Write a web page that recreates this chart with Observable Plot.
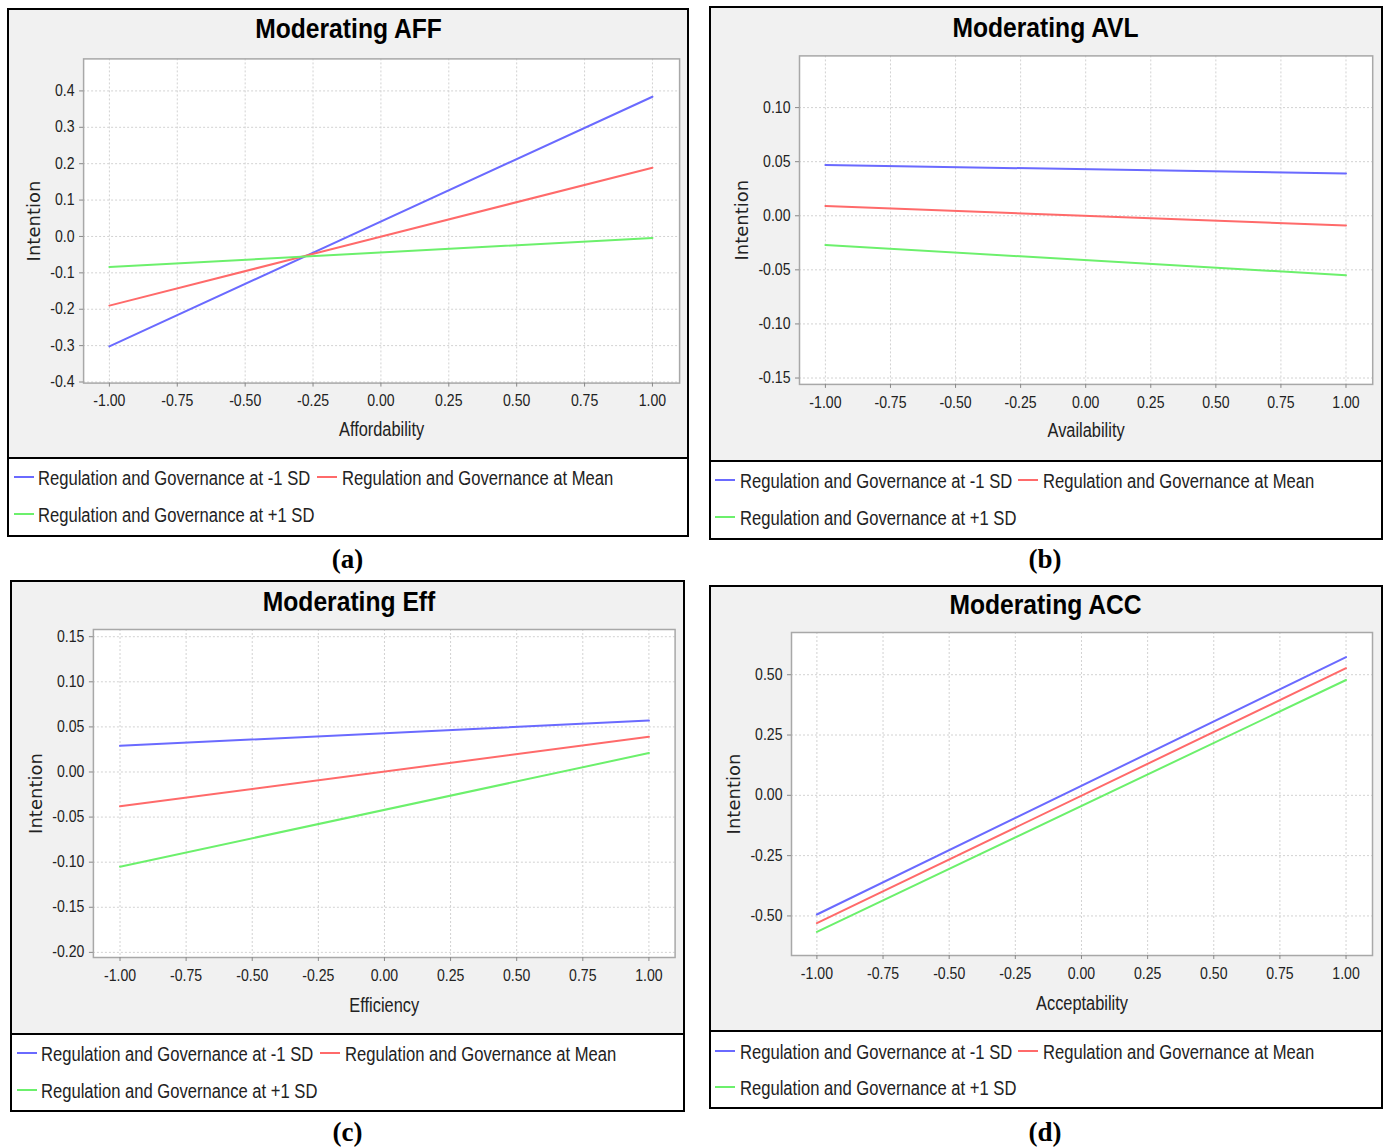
<!DOCTYPE html>
<html>
<head>
<meta charset="utf-8">
<script src="https://cdn.jsdelivr.net/npm/d3@7"></script>
<script src="https://cdn.jsdelivr.net/npm/@observablehq/plot@0.6"></script>
<style>
html, body { margin: 0; padding: 0; background: #fff; }
#page { position: relative; width: 1389px; height: 1148px; overflow: hidden; background: #fff; }
.panel { position: absolute; box-sizing: border-box; border: 2.5px solid #000; background: #f1f1f1; }
.legend { position: absolute; box-sizing: border-box; border: 2.5px solid #000; background: #fff; }
.swatch { position: absolute; width: 20px; height: 2px; }
.ltext { position: absolute; white-space: nowrap; font-family: "Liberation Sans", Arial, sans-serif; font-size: 20px;
  line-height: 24px; color: #222; transform-origin: 0 50%; transform: translateY(-50%) scaleX(0.83); }
.caption { position: absolute; transform: translate(-50%, -50%); font-family: "Liberation Serif", "Times New Roman", serif;
  font-weight: bold; font-size: 27px; color: #000; white-space: nowrap; }
</style>
</head>
<body>
<div id="page"></div>
<script>
// ---- data ----
const xValues = [-1, 1];
const seriesNames = [
  "Regulation and Governance at -1 SD",
  "Regulation and Governance at Mean",
  "Regulation and Governance at +1 SD"
];
const seriesColors = ["#6a6aff", "#ff6a6a", "#6cf06c"];

const panelTitles = ["Moderating AFF", "Moderating AVL", "Moderating Eff", "Moderating ACC"];
const xAxisLabels = ["Affordability", "Availability", "Efficiency", "Acceptability"];
const yAxisLabel = "Intention";
const captions = ["(a)", "(b)", "(c)", "(d)"];

// Intention at x = -1 and x = +1 for each moderator level
const affLow = [-0.302, 0.384];
const affMean = [-0.190, 0.189];
const affHigh = [-0.084, -0.004];

const avlLow = [0.047, 0.039];
const avlMean = [0.009, -0.009];
const avlHigh = [-0.027, -0.055];

const effLow = [0.029, 0.057];
const effMean = [-0.038, 0.039];
const effHigh = [-0.105, 0.021];

const accLow = [-0.494, 0.573];
const accMean = [-0.530, 0.527];
const accHigh = [-0.566, 0.478];

// tick values
const xTicks = [-1, -0.75, -0.5, -0.25, 0, 0.25, 0.5, 0.75, 1];
const affYTicks = [-0.4, -0.3, -0.2, -0.1, 0, 0.1, 0.2, 0.3, 0.4];
const avlYTicks = [-0.15, -0.10, -0.05, 0, 0.05, 0.10];
const effYTicks = [-0.20, -0.15, -0.10, -0.05, 0, 0.05, 0.10, 0.15];
const accYTicks = [-0.50, -0.25, 0, 0.25, 0.50];

// ---- layout (page pixel geometry) ----
const layouts = [
  {box: [7, 8, 688.5, 537], legendTop: 457, plot: [82.6, 57.9, 678.6, 382.1],
   xDomain: [-1.095, 1.1], yDomain: [-0.403, 0.488], titleXY: [347.5, 28.5], xLabelY: 429, yLabelX: 33,
   captionXY: [347.5, 559], rows: [20.5, 57.5]},
  {box: [708.5, 5.5, 1382.5, 540], legendTop: 460, plot: [799, 55.4, 1372.2, 383.9],
   xDomain: [-1.0995, 1.1026], yDomain: [-0.1559, 0.1478], titleXY: [1045, 27.8], xLabelY: 430.5, yLabelX: 741.5,
   captionXY: [1045, 559], rows: [20.4, 57.9]},
  {box: [10, 579.5, 685, 1112], legendTop: 1032.5, plot: [92.4, 629, 674.1, 957],
   xDomain: [-1.1006, 1.099], yDomain: [-0.2057, 0.158], titleXY: [348, 601.8], xLabelY: 1005, yLabelX: 35,
   captionXY: [347.5, 1132], rows: [21.1, 58]},
  {box: [708.5, 584.5, 1383, 1109], legendTop: 1029.5, plot: [791, 632, 1372, 955],
   xDomain: [-1.096, 1.1], yDomain: [-0.664, 0.675], titleXY: [1045, 604.5], xLabelY: 1003, yLabelX: 733.6,
   captionXY: [1045, 1132], rows: [21.5, 58.4]}
];
// legend item slots: [swatch left, text left, row index]
const legendSlots = [[7, 31.5, 0], [310, 335, 0], [7, 31.5, 1]];

const panelSeries = [
  [affLow, affMean, affHigh],
  [avlLow, avlMean, avlHigh],
  [effLow, effMean, effHigh],
  [accLow, accMean, accHigh]
];
const panelYTicks = [affYTicks, avlYTicks, effYTicks, accYTicks];
const panelYDigits = [1, 2, 2, 2];

const sans = '"Liberation Sans", Arial, sans-serif';
const page = document.getElementById("page");
const B = 2.5;

layouts.forEach((lay, i) => {
  const [L, T, R, Bt] = lay.box;
  const [pL, pT, pR, pB] = lay.plot;

  const panel = document.createElement("div");
  panel.className = "panel";
  Object.assign(panel.style, {left: L + "px", top: T + "px", width: (R - L) + "px", height: (Bt - T) + "px"});
  page.appendChild(panel);

  const rows = [];
  panelSeries[i].forEach((vals, s) => {
    vals.forEach((v, k) => rows.push({x: xValues[k], y: v, s: seriesNames[s]}));
  });

  const svgX = L + B, svgY = T + B;
  const svgW = Math.round(R - L - 2 * B), svgH = Math.round(lay.legendTop - T - B);
  const mL = pL - svgX, mT = pT - svgY, mR = svgX + svgW - pR, mB = svgY + svgH - pB;
  const frameCx = (pL + pR) / 2;
  const yt = panelYTicks[i];
  const digits = panelYDigits[i];

  const chart = Plot.plot({
    width: svgW, height: svgH,
    marginLeft: mL, marginRight: mR, marginTop: mT, marginBottom: mB,
    style: {background: "transparent", fontFamily: sans, fontSize: "16px", color: "#222", overflow: "visible"},
    x: {domain: lay.xDomain, label: null},
    y: {domain: lay.yDomain, label: null},
    color: {domain: seriesNames, range: seriesColors},
    marks: [
      Plot.frame({fill: "#fff", stroke: "none"}),
      Plot.ruleX(xTicks, {stroke: "#d2d2d2", strokeDasharray: "2,2", strokeWidth: 1}),
      Plot.ruleY(yt, {stroke: "#d2d2d2", strokeDasharray: "2,2", strokeWidth: 1}),
      Plot.frame({stroke: "#a8a8a8", strokeWidth: 1.5}),
      Plot.axisX({ticks: xTicks, tickFormat: d => d.toFixed(2), tickSize: 4, tickPadding: 8,
        stroke: "#888", fill: "#222", label: null, fontSize: 16, fontFamily: sans}),
      Plot.axisY({ticks: yt, tickFormat: d => d.toFixed(digits), tickSize: 4, tickPadding: 5,
        stroke: "#888", fill: "#222", label: null, fontSize: 16, fontFamily: sans}),
      Plot.line(rows, {x: "x", y: "y", z: "s", stroke: "s", strokeWidth: 2}),
      Plot.text([panelTitles[i]], {frameAnchor: "top", textAnchor: "middle", lineAnchor: "middle",
        dx: lay.titleXY[0] - frameCx, dy: lay.titleXY[1] - pT,
        fontSize: 28, fontWeight: "bold", fontFamily: sans, fill: "#000"}),
      Plot.text([xAxisLabels[i]], {frameAnchor: "bottom", textAnchor: "middle", lineAnchor: "middle",
        dy: lay.xLabelY - pB, fontSize: 19.5, fontFamily: sans, fill: "#222"}),
      Plot.text([yAxisLabel], {frameAnchor: "left", textAnchor: "middle", lineAnchor: "middle", rotate: -90,
        dx: lay.yLabelX - pL, fontSize: 18, fontFamily: '"DejaVu Sans", sans-serif', fill: "#222"})
    ]
  });
  chart.style.position = "absolute";
  chart.style.left = svgX + "px";
  chart.style.top = svgY + "px";
  page.appendChild(chart);

  // narrow the glyphs horizontally, as in the reference
  chart.querySelectorAll("text").forEach(t => {
    const s = t.textContent;
    if (s === yAxisLabel) return;
    let f = 0.88;
    if (s === xAxisLabels[i]) f = 0.84;
    const len = t.getComputedTextLength();
    if (len > 0) {
      t.setAttribute("textLength", (len * f).toFixed(2));
      t.setAttribute("lengthAdjust", "spacingAndGlyphs");
    }
  });

  // legend
  const legend = document.createElement("div");
  legend.className = "legend";
  Object.assign(legend.style, {left: L + "px", top: lay.legendTop + "px", width: (R - L) + "px", height: (Bt - lay.legendTop) + "px"});
  seriesNames.forEach((name, s) => {
    const [sx, tx, r] = legendSlots[s];
    const cy = lay.rows[r] - B;
    const sw = document.createElement("div");
    sw.className = "swatch";
    sw.style.background = seriesColors[s];
    sw.style.left = (sx - B) + "px";
    sw.style.top = (cy - 1) + "px";
    const t = document.createElement("div");
    t.className = "ltext";
    t.textContent = name;
    t.style.left = (tx - B) + "px";
    t.style.top = (cy + 1) + "px";
    legend.appendChild(sw);
    legend.appendChild(t);
  });
  page.appendChild(legend);

  const cap = document.createElement("div");
  cap.className = "caption";
  cap.textContent = captions[i];
  cap.style.left = lay.captionXY[0] + "px";
  cap.style.top = lay.captionXY[1] + "px";
  page.appendChild(cap);
});
</script>
</body>
</html>
